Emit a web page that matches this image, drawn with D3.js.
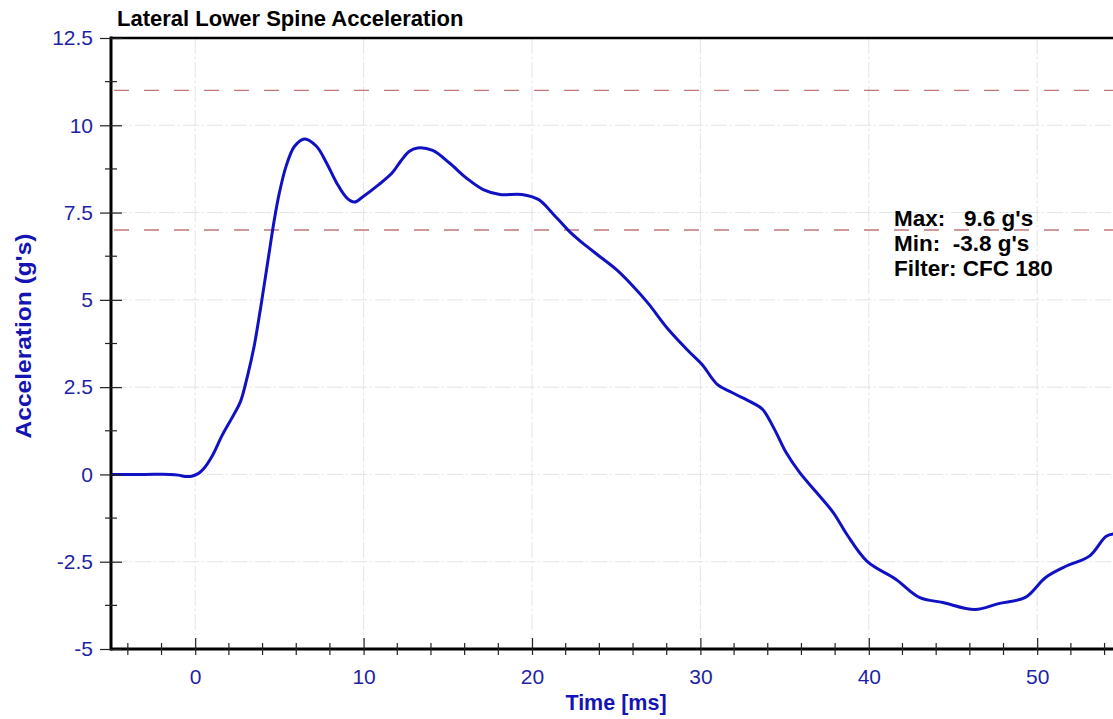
<!DOCTYPE html>
<html>
<head>
<meta charset="utf-8">
<script src="https://cdn.jsdelivr.net/npm/d3@7"></script>
<style>
  html, body { margin: 0; padding: 0; background: #fff; overflow: hidden; }
  text { font-family: Arial, "Liberation Sans", sans-serif; }
</style>
</head>
<body>
<svg id="chart" width="1113" height="719"></svg>
<script>
// ---- data ----
const timeMs = [-5, -3, -1.5, -1, -0.6, -0.2, 0.2, 0.5, 1.0, 1.6, 2.3, 2.7, 3.1, 3.5, 3.9, 4.3, 4.7, 5.0, 5.4, 5.9, 6.5, 7.2, 7.8, 8.4, 9.0, 9.45, 10.0, 10.9, 11.7, 12.2, 12.7, 13.2, 14.1, 15.1, 16.1, 17.1, 18.1, 19.4, 20.4, 21.2, 22.2, 23.0, 24.0, 25.0, 26.0, 26.9, 28.1, 29.3, 30.1, 31.0, 31.9, 33.1, 33.7, 34.4, 35.1, 35.9, 36.9, 37.9, 38.7, 39.9, 41.6, 43.0, 44.4, 46.3, 47.7, 49.3, 50.5, 51.7, 53.1, 54.1, 54.6];
const accel = [0, 0, 0, -0.02, -0.06, -0.05, 0.03, 0.16, 0.52, 1.12, 1.72, 2.1, 2.81, 3.67, 4.82, 6.06, 7.3, 8.07, 8.83, 9.4, 9.61, 9.4, 8.92, 8.35, 7.92, 7.8, 7.97, 8.3, 8.64, 8.97, 9.25, 9.35, 9.28, 8.92, 8.49, 8.16, 8.02, 8.02, 7.87, 7.49, 6.97, 6.63, 6.25, 5.87, 5.39, 4.9, 4.15, 3.53, 3.15, 2.58, 2.34, 2.05, 1.86, 1.29, 0.62, 0.05, -0.52, -1.1, -1.72, -2.49, -3.0, -3.52, -3.67, -3.87, -3.7, -3.52, -2.95, -2.63, -2.34, -1.77, -1.7];
const limitLines = [11, 7];
const xMajorTicks = [0, 10, 20, 30, 40, 50];
const xMinorTicks = [-4, -2, 2, 4, 6, 8, 12, 14, 16, 18, 22, 24, 26, 28, 32, 34, 36, 38, 42, 44, 46, 48, 52, 54, 56, 58];
const yMajorTicks = [-5, -2.5, 0, 2.5, 5, 7.5, 10, 12.5];
const yMinorTicks = [-3.75, -1.25, 1.25, 3.75, 6.25, 8.75, 11.25];
const title = "Lateral Lower Spine Acceleration";
const xTitle = "Time [ms]";
const yTitle = "Acceleration (g's)";
const notes = ["Max:   9.6 g's", "Min:  -3.8 g's", "Filter: CFC 180"];

// ---- layout ----
const pLeft = 111, pTop = 38, pBottom = 649;
const pxPerMs = 16.84;
const x = d3.scaleLinear().domain([-5, 60]).range([pLeft, pLeft + 65 * pxPerMs]);
const y = d3.scaleLinear().domain([-5, 12.5]).range([pBottom, pTop]);

const svg = d3.select("#chart");
const labelColor = "#1f1fa6";
const titleBlue = "#1414b4";

svg.append("defs").append("clipPath").attr("id", "plotclip")
  .append("rect").attr("x", pLeft).attr("y", pTop).attr("width", x(60) - pLeft).attr("height", pBottom - pTop);

// grid
const grid = svg.append("g").attr("stroke", "#e4e4e4").attr("stroke-width", 1).attr("stroke-dasharray", "16,3,2,3");
grid.selectAll(".gx").data(xMajorTicks).join("line")
  .attr("x1", d => x(d)).attr("x2", d => x(d)).attr("y1", pTop).attr("y2", pBottom);
grid.selectAll(".gy").data(yMajorTicks.filter(d => d > -5 && d < 12.5)).join("line")
  .attr("x1", pLeft).attr("x2", x(60)).attr("y1", d => y(d)).attr("y2", d => y(d));

// limit lines
svg.append("g").selectAll("line").data(limitLines).join("line")
  .attr("x1", pLeft).attr("x2", x(60))
  .attr("y1", d => y(d)).attr("y2", d => y(d))
  .attr("stroke", "#c07878").attr("stroke-width", 1.4).attr("stroke-dasharray", "15,15")
  .attr("stroke-dashoffset", -3);

// curve
const pts = timeMs.map((t, i) => [t, accel[i]]);
svg.append("path").datum(pts)
  .attr("clip-path", "url(#plotclip)")
  .attr("fill", "none").attr("stroke", "#1111c4").attr("stroke-width", 3)
  .attr("stroke-linejoin", "round")
  .attr("d", d3.line().x(d => x(d[0])).y(d => y(d[1])).curve(d3.curveCatmullRom.alpha(0.5)));

// axes frame
const frame = svg.append("g").attr("stroke", "#000").attr("fill", "none");
frame.append("line").attr("x1", pLeft).attr("x2", pLeft).attr("y1", pTop - 1.5).attr("y2", pBottom + 1.5).attr("stroke-width", 3);
frame.append("line").attr("x1", pLeft).attr("x2", x(60)).attr("y1", pBottom).attr("y2", pBottom).attr("stroke-width", 3);
frame.append("line").attr("x1", pLeft).attr("x2", x(60)).attr("y1", pTop).attr("y2", pTop).attr("stroke-width", 2.5);

// y ticks
const yAxisG = svg.append("g").attr("transform", `translate(${pLeft},0)`);
const yAxis = d3.axisLeft(y).tickValues(yMajorTicks).tickSize(11).tickPadding(7)
  .tickFormat(d => String(d));
yAxisG.call(yAxis);
yAxisG.select(".domain").remove();
yAxisG.selectAll(".tick line").attr("x2", -11).attr("x1", 11).attr("stroke", "#222").attr("stroke-width", 1.2);
yAxisG.selectAll(".tick text").attr("fill", labelColor).attr("font-size", 21).attr("x", -18)
  .attr("font-family", "Arial, 'Liberation Sans', sans-serif");
yAxisG.selectAll(".minor").data(yMinorTicks).join("line")
  .attr("x1", -6).attr("x2", 6).attr("y1", d => y(d)).attr("y2", d => y(d))
  .attr("stroke", "#222").attr("stroke-width", 1.2);

// x ticks
const xAxisG = svg.append("g").attr("transform", `translate(0,${pBottom})`);
const xAxis = d3.axisBottom(x).tickValues(xMajorTicks).tickSize(6).tickPadding(14).tickFormat(d => String(d));
xAxisG.call(xAxis);
xAxisG.select(".domain").remove();
xAxisG.selectAll(".tick line").attr("y1", -11).attr("y2", 6).attr("stroke", "#222").attr("stroke-width", 1.2);
xAxisG.selectAll(".tick text").attr("fill", labelColor).attr("font-size", 21)
  .attr("font-family", "Arial, 'Liberation Sans', sans-serif");
xAxisG.selectAll(".minor").data(xMinorTicks).join("line")
  .attr("x1", d => x(d)).attr("x2", d => x(d)).attr("y1", -6).attr("y2", 6)
  .attr("stroke", "#222").attr("stroke-width", 1.2);

// titles
svg.append("text").attr("x", 117).attr("y", 26).text(title)
  .attr("font-weight", "bold").attr("font-size", 22).attr("fill", "#000");
svg.append("text").attr("x", 616).attr("y", 710).attr("text-anchor", "middle").text(xTitle)
  .attr("font-weight", "bold").attr("font-size", 21.5).attr("fill", titleBlue);
svg.append("text").attr("transform", "translate(31,336) rotate(-90)").attr("text-anchor", "middle").text(yTitle)
  .attr("font-weight", "bold").attr("font-size", 21.5).attr("fill", titleBlue)
  .attr("textLength", 205).attr("lengthAdjust", "spacingAndGlyphs");

// annotation
const ann = svg.append("g");
ann.selectAll("text").data(notes).join("text")
  .attr("x", 894).attr("y", (d, i) => 226 + i * 25)
  .attr("font-weight", "bold").attr("font-size", 22.5).attr("fill", "#000")
  .attr("xml:space", "preserve").style("white-space", "pre")
  .text(d => d);
</script>
</body>
</html>
